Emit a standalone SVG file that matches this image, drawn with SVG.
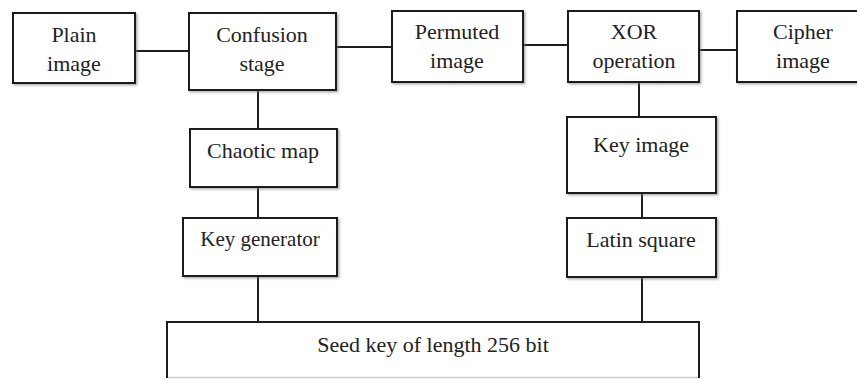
<svg xmlns="http://www.w3.org/2000/svg" width="857" height="379" viewBox="0 0 857 379" font-family="Liberation Serif, DejaVu Serif, serif">
<defs>
<filter id="sh" x="-10%" y="-10%" width="130%" height="130%">
<feDropShadow dx="1.5" dy="1.5" stdDeviation="1" flood-color="#777" flood-opacity="0.6"/>
</filter>
</defs>
<style>
.box{fill:#fff;stroke:#1e1e1e;stroke-width:2;filter:url(#sh)}
.lbl{font-size:22px;fill:#222;text-anchor:middle}
.con{stroke:#1e1e1e;stroke-width:2;fill:none}
</style>
<rect width="857" height="379" fill="#fff"/>
<g id="connectors">
<line class="con" x1="135" y1="51" x2="189" y2="51"/>
<line class="con" x1="336" y1="47" x2="392" y2="47"/>
<line class="con" x1="523" y1="45" x2="568" y2="45"/>
<line class="con" x1="699" y1="50" x2="737" y2="50"/>
<line class="con" x1="258" y1="90" x2="258" y2="129"/>
<line class="con" x1="258" y1="187" x2="258" y2="218"/>
<line class="con" x1="258" y1="276" x2="258" y2="322"/>
<line class="con" x1="639" y1="82" x2="639" y2="117"/>
<line class="con" x1="642" y1="193" x2="642" y2="218"/>
<line class="con" x1="642" y1="277" x2="642" y2="322"/>
</g>
<g id="plain">
<rect class="box" x="13" y="13" width="122" height="70"/>
<text class="lbl" x="74" y="42" font-family="Liberation Serif, DejaVu Serif, serif">Plain</text>
<text class="lbl" x="74" y="71" font-family="Liberation Serif, DejaVu Serif, serif">image</text>
</g>
<g id="confusion">
<rect class="box" x="189" y="13" width="147" height="77"/>
<text class="lbl" x="262" y="42">Confusion</text>
<text class="lbl" x="262" y="71">stage</text>
</g>
<g id="permuted">
<rect class="box" x="392" y="11" width="131" height="71"/>
<text class="lbl" x="457" y="39">Permuted</text>
<text class="lbl" x="457" y="68">image</text>
</g>
<g id="xor">
<rect class="box" x="568" y="11" width="131" height="71"/>
<text class="lbl" x="634" y="39">XOR</text>
<text class="lbl" x="634" y="68">operation</text>
</g>
<g id="cipher">
<rect class="box" x="737" y="11" width="133" height="71"/>
<text class="lbl" x="803" y="39">Cipher</text>
<text class="lbl" x="803" y="68">image</text>
</g>
<g id="chaotic">
<rect class="box" x="190" y="129" width="147" height="58"/>
<text class="lbl" x="263" y="158">Chaotic map</text>
</g>
<g id="keygen">
<rect class="box" x="183" y="218" width="154" height="58"/>
<text class="lbl" x="260" y="246" style="font-size:21px">Key generator</text>
</g>
<g id="keyimage">
<rect class="box" x="567" y="117" width="149" height="76"/>
<text class="lbl" x="641" y="152">Key image</text>
</g>
<g id="latin">
<rect class="box" x="567" y="218" width="149" height="59"/>
<text class="lbl" x="641" y="247">Latin square</text>
</g>
<g id="seed">
<rect x="167" y="322" width="532" height="55" fill="#fff" stroke="none"/>
<path class="con" d="M167,378 V322 H699 V378"/>
<line x1="168" y1="377.5" x2="698" y2="377.5" stroke="#ccc" stroke-width="1.5"/>
<text class="lbl" x="433" y="352">Seed key of length 256 bit</text>
</g>
</svg>
